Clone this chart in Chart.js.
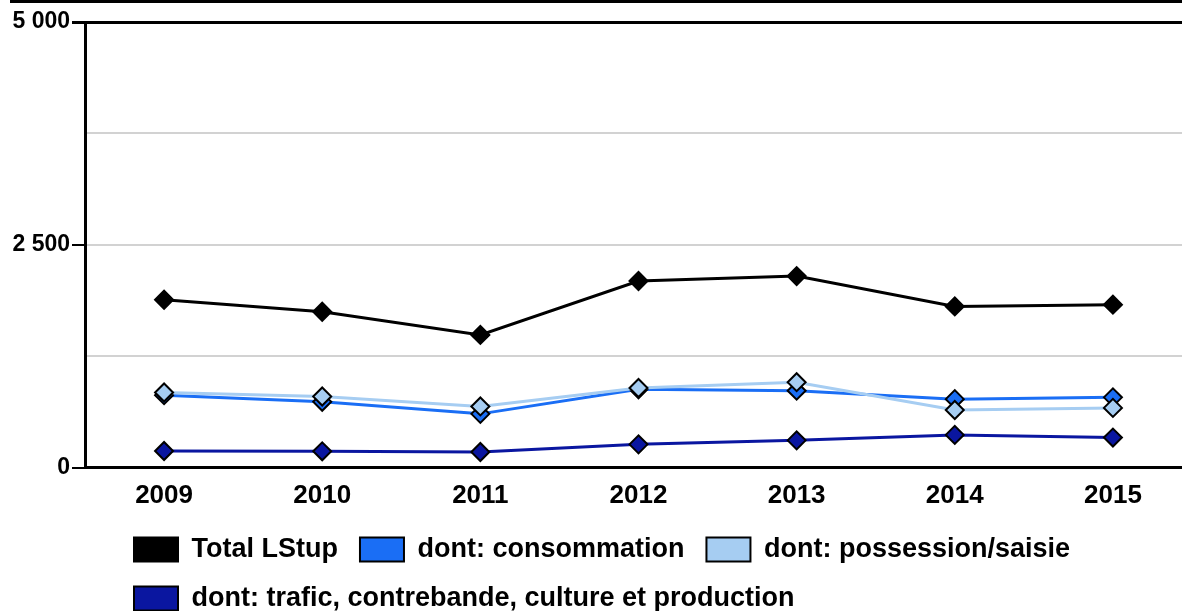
<!DOCTYPE html>
<html>
<head>
<meta charset="utf-8">
<script src="https://cdn.jsdelivr.net/npm/chart.js@4"></script>
<style>
  html, body { margin: 0; padding: 0; background: #fff; overflow: hidden; }
  #wrap { position: relative; width: 1182px; height: 611px; overflow: hidden; }
  #topline { position: absolute; top: 0; left: 10px; right: 0; height: 3px; background: #000; }
  canvas { position: absolute; top: 0; left: 0; }
</style>
</head>
<body>
<div id="wrap">
  <div id="topline"></div>
  <canvas id="chart" width="1203" height="611"></canvas>
</div>
<script>
const years = ['2009', '2010', '2011', '2012', '2013', '2014', '2015'];
const seriesNames = [
  'Total LStup',
  'dont: consommation',
  'dont: possession/saisie',
  'dont: trafic, contrebande, culture et production'
];
const total = [1885, 1750, 1490, 2095, 2150, 1810, 1830];
const consommation = [815, 740, 605, 880, 865, 770, 790];
const possession = [845, 800, 688, 895, 960, 648, 672];
const trafic = [188, 185, 177, 263, 308, 369, 339];
const yLabelTicks = [0, 2500, 5000];

const colors = ['#000000', '#1a6ef5', '#a6cdf2', '#0a16a0'];
const font = '"Liberation Sans", Arial, sans-serif';

function fmt(v) {
  return String(v).replace(/\B(?=(\d{3})+(?!\d))/g, ' ');
}

function makeSet(i, data, order) {
  return {
    label: seriesNames[i],
    data: data,
    order: order,
    borderColor: colors[i],
    backgroundColor: colors[i],
    borderWidth: 3,
    pointStyle: 'rectRot',
    pointRadius: 9,
    pointBorderColor: '#000',
    pointBorderWidth: 2,
    pointBackgroundColor: colors[i],
    tension: 0
  };
}

// move legend rows so they begin under the plot, like the original
const legendShift = {
  id: 'legendShift',
  afterLayout(chart) {
    const lg = chart.legend;
    lg.left += 112;
    lg.top -= 9;
    lg.bottom -= 9;
  }
};

new Chart(document.getElementById('chart'), {
  type: 'line',
  data: {
    labels: years,
    datasets: [
      makeSet(0, total, 0),
      makeSet(1, consommation, 2),
      makeSet(2, possession, 1),
      makeSet(3, trafic, 3)
    ]
  },
  plugins: [legendShift],
  options: {
    responsive: false,
    animation: false,
    events: [],
    layout: { padding: { top: 22, left: 0, right: 0, bottom: -20 } },
    font: { family: font },
    scales: {
      x: {
        offset: true,
        afterFit(scale) { scale.paddingRight = 0; scale.paddingLeft = 0; },
        grid: { display: false, drawTicks: false },
        border: { display: true, color: '#000', width: 3 },
        ticks: {
          color: '#000',
          padding: 12,
          font: { family: font, size: 26, weight: 'bold' }
        }
      },
      y: {
        min: 0,
        max: 5000,
        afterFit(scale) { scale.width = 85; },
        border: { display: true, color: '#000', width: 3 },
        grid: {
          color: ctx => ctx.tick && ctx.tick.value === 5000 ? '#000' : '#d2d2d2',
          lineWidth: ctx => ctx.tick && ctx.tick.value === 5000 ? 3 : 2,
          tickColor: ctx => ctx.tick && yLabelTicks.includes(ctx.tick.value) ? '#000' : 'rgba(0,0,0,0)',
          tickLength: 13
        },
        ticks: {
          stepSize: 1250,
          color: '#000',
          padding: 2,
          font: { family: font, size: 23, weight: 'bold' },
          callback: v => yLabelTicks.includes(v) ? fmt(v) : ''
        }
      }
    },
    plugins: {
      tooltip: { enabled: false },
      legend: {
        position: 'bottom',
        align: 'start',
        labels: {
          boxWidth: 44,
          boxHeight: 24,
          padding: 22,
          color: '#000',
          font: { family: font, size: 27, weight: 'bold' },
          sort: (a, b) => a.datasetIndex - b.datasetIndex,
          generateLabels(chart) {
            const items = Chart.defaults.plugins.legend.labels.generateLabels(chart);
            items.forEach(it => {
              it.fillStyle = colors[it.datasetIndex];
              it.strokeStyle = '#000';
              it.lineWidth = 2;
            });
            return items;
          }
        }
      }
    }
  }
});
</script>
</body>
</html>
